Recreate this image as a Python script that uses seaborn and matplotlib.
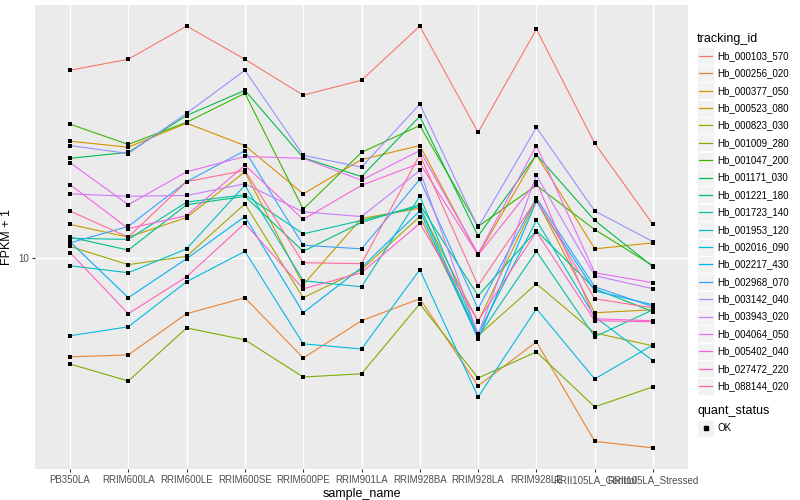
import numpy as np
import pandas as pd
import seaborn as sns
import matplotlib.pyplot as plt
from matplotlib.lines import Line2D
from matplotlib.patches import Rectangle

samples = ['PB350LA', 'RRIM600LA', 'RRIM600LE', 'RRIM600SE', 'RRIM600PE', 'RRIM901LA',
           'RRIM928BA', 'RRIM928LA', 'RRIM928LE', 'RRII105LA_Control', 'RRII105LA_Stressed']

tracking_ids = ['Hb_000103_570', 'Hb_000256_020', 'Hb_000377_050', 'Hb_000523_080', 'Hb_000823_030',
                'Hb_001009_280', 'Hb_001047_200', 'Hb_001171_030', 'Hb_001221_180', 'Hb_001723_140',
                'Hb_001953_120', 'Hb_002016_090', 'Hb_002217_430', 'Hb_002968_070', 'Hb_003142_040',
                'Hb_003943_020', 'Hb_004064_050', 'Hb_005402_040', 'Hb_027472_220', 'Hb_088144_020']

# FPKM + 1, one list per gene, in sample order
hb_000103_570 = [42.0, 45.7, 58.9, 45.7, 34.7, 38.9, 58.9, 26.1, 57.5, 24.0, 12.9]
hb_000256_020 = [4.68, 4.75, 6.51, 7.36, 4.64, 6.17, 7.30, 3.75, 5.25, 2.45, 2.33]
hb_000377_050 = [24.4, 23.3, 28.0, 23.6, 16.3, 21.2, 23.6, 10.2, 22.0, 10.7, 11.2]
hb_000523_080 = [12.9, 11.7, 13.6, 19.3, 8.13, 13.5, 14.6, 6.12, 15.6, 6.56, 6.71]
hb_000823_030 = [10.9, 9.48, 10.1, 15.1, 7.36, 9.12, 13.7, 5.50, 8.19, 5.62, 5.09]
hb_001009_280 = [4.43, 3.89, 5.84, 5.33, 4.01, 4.11, 7.02, 3.98, 4.86, 3.19, 3.72]
hb_001047_200 = [27.8, 23.8, 28.2, 35.2, 14.5, 22.4, 27.5, 12.7, 17.4, 12.4, 9.40]
hb_001171_030 = [21.4, 22.4, 29.7, 36.0, 21.5, 18.6, 29.5, 11.8, 22.0, 13.3, 9.33]
hb_001221_180 = [11.7, 10.6, 15.0, 16.0, 10.5, 13.1, 15.0, 7.47, 12.3, 7.88, 6.61]
hb_001723_140 = [11.6, 11.5, 15.3, 16.2, 12.0, 13.3, 14.8, 5.46, 10.5, 5.46, 6.71]
hb_001953_120 = [9.40, 8.91, 10.7, 17.4, 8.38, 8.00, 16.0, 5.58, 13.3, 6.36, 4.54]
hb_002016_090 = [5.50, 5.89, 8.32, 10.5, 5.17, 4.97, 9.12, 3.44, 6.76, 3.95, 5.13]
hb_002217_430 = [11.3, 7.36, 9.92, 13.7, 6.56, 9.26, 14.3, 5.37, 15.4, 7.76, 6.97]
hb_002968_070 = [11.2, 12.7, 17.9, 22.7, 11.0, 10.7, 18.2, 6.76, 15.8, 8.00, 6.87]
hb_003142_040 = [23.6, 22.2, 30.2, 42.0, 21.9, 20.0, 32.4, 12.6, 27.1, 14.3, 11.3]
hb_003943_020 = [16.3, 16.0, 16.1, 17.6, 14.2, 13.7, 19.5, 5.54, 18.8, 8.71, 7.88]
hb_004064_050 = [20.7, 15.0, 19.3, 21.7, 21.4, 18.1, 22.7, 10.3, 23.6, 8.91, 8.25]
hb_005402_040 = [17.5, 12.5, 13.8, 20.3, 13.4, 17.4, 20.6, 10.2, 17.9, 6.26, 6.17]
hb_027472_220 = [10.4, 6.51, 8.64, 13.0, 7.88, 8.91, 13.0, 6.17, 12.2, 6.17, 6.12]
hb_088144_020 = [14.3, 11.7, 17.9, 19.5, 9.62, 9.55, 22.0, 8.07, 15.6, 7.30, 6.81]

series = [hb_000103_570, hb_000256_020, hb_000377_050, hb_000523_080, hb_000823_030,
          hb_001009_280, hb_001047_200, hb_001171_030, hb_001221_180, hb_001723_140,
          hb_001953_120, hb_002016_090, hb_002217_430, hb_002968_070, hb_003142_040,
          hb_003943_020, hb_004064_050, hb_005402_040, hb_027472_220, hb_088144_020]

# ggplot2 default hue palette for 20 levels
colors = ['#F8766D', '#EA8331', '#D89000', '#C09B00', '#A3A500', '#7CAE00', '#39B600',
          '#00BB4E', '#00BF7D', '#00C1A3', '#00BFC4', '#00BAE0', '#00B0F6', '#35A2FF',
          '#9590FF', '#C77CFF', '#E76BF3', '#FA62DB', '#FF62BC', '#FF6C91']

rows = []
for tid, vals in zip(tracking_ids, series):
    for i, (s, v) in enumerate(zip(samples, vals)):
        rows.append({'tracking_id': tid, 'sample_name': s, 'pos': i, 'fpkm': v, 'quant_status': 'OK'})
df = pd.DataFrame(rows)

plt.rcParams['font.family'] = ['Liberation Sans', 'DejaVu Sans']
fig = plt.figure(figsize=(8, 5), dpi=100)
ax = fig.add_axes([35 / 800, 31 / 500, 653 / 800, 464 / 500])
ax.set_facecolor('#EBEBEB')

sns.lineplot(data=df, x='pos', y='fpkm', hue='tracking_id', hue_order=tracking_ids,
             palette=colors, linewidth=0.8, legend=False, ax=ax, sort=False, zorder=2)
sns.scatterplot(data=df, x='pos', y='fpkm', color='black', marker='s', s=8,
                linewidth=0, legend=False, ax=ax, zorder=3)

ax.set_yscale('log')
lo, hi = np.log10(df['fpkm'].min()), np.log10(df['fpkm'].max())
pad = 0.05 * (hi - lo)
ax.set_ylim(10 ** (lo - pad), 10 ** (hi + pad))
ax.set_xlim(-0.6, len(samples) - 0.4)

ax.set_yticks([10])
ax.set_yticklabels(['10'])
ax.yaxis.set_minor_locator(plt.NullLocator())
ax.set_xticks(range(len(samples)))
ax.set_xticklabels(samples)
ax.grid(True, which='major', color='white', linewidth=1.0)
ax.set_axisbelow(True)
for sp in ax.spines.values():
    sp.set_visible(False)
ax.tick_params(axis='both', colors='#333333', labelsize=7, length=2.5, width=0.8, pad=2)
ax.tick_params(axis='x', labelcolor='#4D4D4D')
ax.tick_params(axis='y', labelcolor='#4D4D4D')
ax.set_xlabel('sample_name', fontsize=9, labelpad=2)
ax.set_ylabel('FPKM + 1', fontsize=9)
ax.yaxis.set_label_coords(-22 / 653, 0.5)

# legend drawn ggplot-style on the right
W, H = 800, 500
fig.text(697 / W, 1 - 39 / H, 'tracking_id', fontsize=9, va='center', ha='left')
for k, (tid, c) in enumerate(zip(tracking_ids, colors)):
    yc = 56 + k * 17.37
    fig.patches.append(Rectangle((697 / W, 1 - (yc + 8.5) / H), 17 / W, 17 / H,
                                 transform=fig.transFigure, facecolor='#F2F2F2',
                                 edgecolor='white', linewidth=0.5))
    fig.lines.append(Line2D([699 / W, 712 / W], [1 - yc / H, 1 - yc / H],
                            transform=fig.transFigure, color=c, linewidth=0.9))
    fig.text(717 / W, 1 - yc / H, tid, fontsize=7, va='center', ha='left')

fig.text(697 / W, 1 - 411 / H, 'quant_status', fontsize=9, va='center', ha='left')
fig.patches.append(Rectangle((697 / W, 1 - 436.5 / H), 17 / W, 17 / H,
                             transform=fig.transFigure, facecolor='#F2F2F2',
                             edgecolor='white', linewidth=0.5))
fig.lines.append(Line2D([705.5 / W], [1 - 428 / H], transform=fig.transFigure,
                        marker='s', color='black', markersize=3, linestyle='none'))
fig.text(717 / W, 1 - 428 / H, 'OK', fontsize=7, va='center', ha='left')

fig.savefig('out.png', dpi=100)
